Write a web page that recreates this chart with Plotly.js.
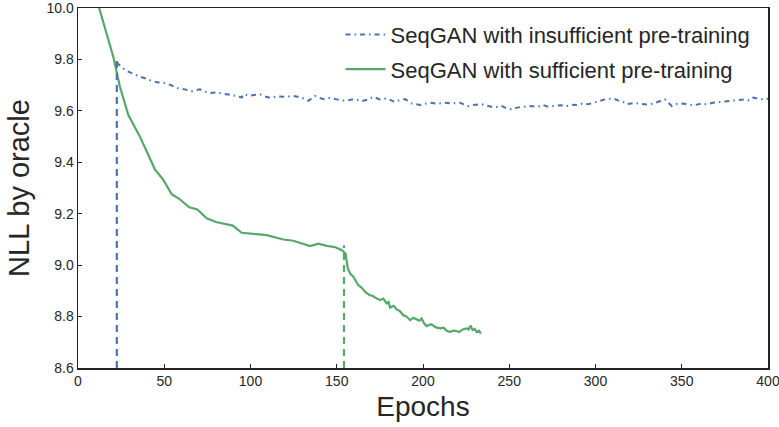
<!DOCTYPE html>
<html>
<head>
<meta charset="utf-8">
<script src="https://cdn.plot.ly/plotly-3.0.1.min.js"></script>
<style>html,body{margin:0;padding:0;background:#fff;}#chart{width:779px;height:427px;}</style>
</head>
<body>
<div id="chart"></div>
<script>
// Series: SeqGAN with insufficient pre-training (blue, dash-dot)
const insuffEpochs = [22.4, 25, 28.2, 32, 35.9, 40, 43, 46.5, 51.4, 55, 58.2, 62, 65.9, 70.7, 73, 76.5, 80, 83.3, 87, 90, 94.9, 95.8, 100, 105.5, 108, 111.3, 116, 120, 124.8, 129.7, 133.5, 137.4, 142.2, 146, 150, 153, 156.7, 160, 164.5, 168, 171.2, 175, 179, 183.8, 186, 189.6, 193.4, 198.3, 204.1, 208, 212.8, 217, 221.4, 226.3, 229.2, 234.1, 237, 240.8, 245.6, 248, 251.4, 254, 257.2, 263, 266, 269.8, 272, 275.6, 280, 283.3, 286, 289.1, 292, 295.8, 300.7, 303, 305.5, 310.3, 313, 316.1, 318, 322, 325.8, 330, 333.5, 337, 340.3, 344.2, 347, 350.9, 354, 357.7, 361, 364.4, 368, 372.2, 376, 379.9, 383, 386.7, 389, 391.5, 395, 398.3, 400];
const insuffNLL = [9.79, 9.772, 9.756, 9.745, 9.733, 9.725, 9.716, 9.711, 9.707, 9.697, 9.688, 9.684, 9.677, 9.684, 9.676, 9.670, 9.672, 9.668, 9.664, 9.661, 9.652, 9.665, 9.660, 9.665, 9.657, 9.651, 9.657, 9.655, 9.658, 9.652, 9.639, 9.658, 9.646, 9.650, 9.645, 9.640, 9.642, 9.646, 9.638, 9.644, 9.655, 9.645, 9.649, 9.635, 9.641, 9.646, 9.629, 9.623, 9.632, 9.628, 9.632, 9.629, 9.632, 9.619, 9.623, 9.626, 9.621, 9.614, 9.619, 9.612, 9.606, 9.612, 9.616, 9.619, 9.615, 9.623, 9.617, 9.619, 9.622, 9.619, 9.624, 9.623, 9.628, 9.626, 9.635, 9.640, 9.645, 9.649, 9.641, 9.635, 9.626, 9.631, 9.629, 9.625, 9.629, 9.636, 9.645, 9.619, 9.627, 9.629, 9.624, 9.623, 9.628, 9.626, 9.632, 9.635, 9.637, 9.639, 9.643, 9.645, 9.641, 9.652, 9.646, 9.645, 9.648];

// Series: SeqGAN with sufficient pre-training (green, solid)
const suffEpochs = [8, 12.3, 20.5, 24.3, 29.2, 35.9, 40, 44.6, 49.4, 54.3, 59.1, 64.5, 69.2, 74.6, 80, 89.7, 94.9, 109.4, 119, 124.8, 134.5, 139.3, 144.2, 149.3, 153, 155.1, 156.4, 158, 159.6, 161, 162.5, 164, 165.4, 167, 169.3, 171, 172.2, 174, 175.1, 177, 178.9, 180, 180.9, 183, 184.7, 186.5, 188.6, 190.5, 192.5, 194.5, 196.3, 198, 199.2, 200.5, 202.1, 203.5, 205, 207.5, 209.9, 212, 213.5, 215.7, 217.5, 219.5, 221, 223, 225.3, 226.5, 227.5, 228.8, 230, 231.1, 232.5, 233.6];
const suffNLL = [10.12, 10.0, 9.81, 9.694, 9.584, 9.50, 9.44, 9.372, 9.333, 9.276, 9.256, 9.225, 9.217, 9.182, 9.168, 9.154, 9.126, 9.117, 9.100, 9.095, 9.074, 9.084, 9.075, 9.070, 9.058, 9.045, 8.987, 8.965, 8.955, 8.938, 8.922, 8.915, 8.903, 8.893, 8.883, 8.880, 8.874, 8.868, 8.864, 8.870, 8.851, 8.857, 8.835, 8.842, 8.828, 8.822, 8.805, 8.800, 8.786, 8.795, 8.789, 8.784, 8.793, 8.775, 8.763, 8.768, 8.770, 8.758, 8.754, 8.757, 8.746, 8.740, 8.745, 8.744, 8.740, 8.750, 8.754, 8.750, 8.765, 8.748, 8.752, 8.740, 8.745, 8.734];

// Vertical markers where adversarial training starts
const cutEpochs = [22.5, 154.2];
const cutTops = [9.81, 9.078];
const yMin = 8.6;

const xTicks = [0, 50, 100, 150, 200, 250, 300, 350, 400];
const yTicks = [8.6, 8.8, 9.0, 9.2, 9.4, 9.6, 9.8, 10.0];
const yTickText = ['8.6', '8.8', '9.0', '9.2', '9.4', '9.6', '9.8', '10.0'];

const blue = '#4C72B0', green = '#55A868';

const traces = [
  {x: insuffEpochs, y: insuffNLL, mode: 'lines', name: 'SeqGAN with insufficient pre-training', legendgroup: 'a',
   line: {color: blue, width: 2, dash: '5px,4px,1.5px,4px'}},
  {x: suffEpochs, y: suffNLL, mode: 'lines', name: 'SeqGAN with sufficient pre-training', legendgroup: 'b',
   line: {color: green, width: 2.2}},
  {x: [cutEpochs[0], cutEpochs[0]], y: [yMin, cutTops[0]], mode: 'lines', showlegend: false,
   line: {color: blue, width: 2.2, dash: '7px,5px'}},
  {x: [cutEpochs[1], cutEpochs[1]], y: [yMin, cutTops[1]], mode: 'lines', showlegend: false,
   line: {color: green, width: 2.2, dash: '7px,5px'}}
];

const tickFont = {family: 'Liberation Sans Narrow, Liberation Sans, Arial, sans-serif', size: 14, color: '#262626'};

const layout = {
  width: 779, height: 427,
  margin: {l: 78, r: 11, t: 8, b: 59},
  paper_bgcolor: '#fff', plot_bgcolor: '#fff',
  showlegend: true,
  legend: {x: 0.982, xanchor: 'right', y: 0.984, yanchor: 'top', bgcolor: 'rgba(0,0,0,0)',
           font: {family: 'Liberation Sans, Arial, sans-serif', size: 22, color: '#262626'},
           tracegroupgap: 3, itemwidth: 40},
  xaxis: {range: [0, 400], tickvals: xTicks, ticktext: xTicks.map(String), tickfont: tickFont,
          ticklabeloverflow: 'allow',
          showgrid: false, zeroline: false, showline: true, linecolor: '#222', linewidth: 1.5, mirror: true,
          ticks: 'inside', ticklen: 4, tickcolor: '#222', tickwidth: 1,
          title: {text: 'Epochs', font: {family: 'Liberation Sans, Arial, sans-serif', size: 28, color: '#262626'}, standoff: 8}},
  yaxis: {range: [8.6, 10.0005], tickvals: yTicks, ticktext: yTickText, tickfont: tickFont,
          ticklabeloverflow: 'allow',
          showgrid: false, zeroline: false, showline: true, linecolor: '#222', linewidth: 1.5, mirror: true,
          ticks: 'inside', ticklen: 4, tickcolor: '#222', tickwidth: 1,
          title: {text: 'NLL by oracle', font: {family: 'Liberation Sans, Arial, sans-serif', size: 29, color: '#262626'}, standoff: 8}}
};

Plotly.newPlot('chart', traces, layout, {displayModeBar: false, staticPlot: true});
</script>
</body>
</html>
